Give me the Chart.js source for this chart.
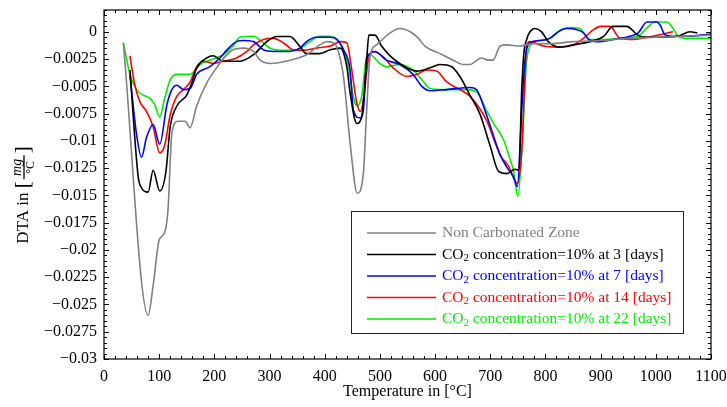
<!DOCTYPE html>
<html>
<head>
<meta charset="utf-8">
<script src="https://cdn.jsdelivr.net/npm/chart.js@4/dist/chart.umd.min.js"></script>
<style>
  html, body { margin: 0; padding: 0; background: #fff; }
  #wrap { width: 727px; height: 407px; }
</style>
</head>
<body>
<div id="wrap"><canvas id="dta" width="727" height="407"></canvas></div>
<script>
/* DTA curves — temperature [°C] vs DTA [mg/°C] */

const xTicks = [0, 100, 200, 300, 400, 500, 600, 700, 800, 900, 1000, 1100];
const yTicks = [0, -0.0025, -0.005, -0.0075, -0.01, -0.0125, -0.015, -0.0175, -0.02, -0.0225, -0.025, -0.0275, -0.03];

const seriesLabels = [
  'Non Carbonated Zone',
  'CO₂ concentration=10% at 3 [days]',
  'CO₂ concentration=10% at 7 [days]',
  'CO₂ concentration=10% at 14 [days]',
  'CO₂ concentration=10% at 22 [days]',
];
const seriesColors = ['#808080', '#000000', '#0000ff', '#ff0000', '#00ee00'];

// Non carbonated zone
const ncT = [35, 80, 89, 100, 110, 116, 123, 134, 147, 156, 168, 186, 204, 219, 234, 252, 271, 283, 301, 337, 367, 391, 404, 415, 422, 434, 446, 459, 470, 476, 482, 494, 518, 536, 555, 569, 582, 609, 633, 651, 663, 684, 696, 705, 718, 730, 754, 778, 808, 850, 900, 950, 1000, 1050, 1100];
const ncV = [-0.001, -0.026, -0.0233, -0.0191, -0.0184, -0.0163, -0.0093, -0.0082, -0.0082, -0.0088, -0.0068, -0.0047, -0.0033, -0.0023, -0.00165, -0.0015, -0.0018, -0.0026, -0.0029, -0.0026, -0.0021, -0.0012, -0.0009, -0.001, -0.0014, -0.0041, -0.0102, -0.0148, -0.013, -0.0072, -0.0023, -0.0012, -0.00012, 0.0003, 0, -0.00056, -0.00134, -0.002, -0.0026, -0.003, -0.003, -0.0024, -0.0026, -0.0026, -0.0013, -0.0012, -0.0013, -0.0011, -0.0011, -0.0009, -0.0008, -0.0006, -0.0005, -0.0004, -0.0003];

// 3 days
const d3T = [47, 62, 68, 80, 89, 101, 112, 120, 132, 150, 159, 168, 186, 198, 216, 246, 271, 295, 313, 337, 355, 367, 391, 410, 428, 440, 446, 458, 467, 476, 480, 491, 503, 530, 567, 596, 609, 630, 645, 663, 681, 700, 715, 730, 745, 752, 757, 761, 766, 772, 781, 793, 805, 826, 850, 881, 906, 922, 947, 971, 1000, 1040, 1062, 1075];
const d3V = [-0.0035, -0.0133, -0.0143, -0.0147, -0.0127, -0.0146, -0.0129, -0.0087, -0.0068, -0.0058, -0.0047, -0.0033, -0.0024, -0.0022, -0.0027, -0.0027, -0.0021, -0.0009, -0.00043, -0.00043, -0.00134, -0.002, -0.002, -0.00165, -0.0015, -0.0032, -0.0056, -0.0084, -0.0078, -0.0026, -0.0003, -0.0003, -0.0013, -0.0027, -0.0036, -0.0032, -0.003, -0.0032, -0.0041, -0.0058, -0.0075, -0.0105, -0.0128, -0.013, -0.0126, -0.0127, -0.0053, -0.0019, -0.0007, 0, 0.0003, 0, -0.0009, -0.0014, -0.0012, -0.0009, -0.0004, 0.0005, 0.0005, -0.0004, -0.0005, -0.0004, 0, -0.0001];

// 7 days
const d7T = [47, 59, 68, 77, 89, 101, 114, 123, 132, 144, 156, 168, 192, 210, 222, 240, 252, 271, 289, 307, 337, 355, 367, 385, 410, 422, 434, 446, 452, 464, 470, 476, 482, 491, 512, 536, 560, 576, 591, 621, 663, 675, 693, 718, 730, 742, 749, 757, 763, 772, 790, 808, 826, 839, 857, 869, 878, 893, 923, 953, 968, 984, 1002, 1008, 1017, 1030, 1060, 1100];
const d7V = [-0.004, -0.0094, -0.0115, -0.0097, -0.0085, -0.0103, -0.0067, -0.0053, -0.0049, -0.0053, -0.0052, -0.0039, -0.0032, -0.0024, -0.0017, -0.0009, -0.0008, -0.0009, -0.00165, -0.0018, -0.0018, -0.0015, -0.0009, -0.0005, -0.0005, -0.0007, -0.00165, -0.0035, -0.0072, -0.0079, -0.0072, -0.0026, -0.002, -0.0018, -0.0026, -0.003, -0.0039, -0.005, -0.0054, -0.0053, -0.0051, -0.0053, -0.0076, -0.0113, -0.0124, -0.0133, -0.0142, -0.0072, -0.0026, -0.001, -0.0008, -0.0006, 0.0001, 0.0003, 0.0002, -0.0001, -0.0007, -0.0009, -0.0007, -0.0004, -0.0001, 0.0009, 0.0009, 0.0006, -0.0003, -0.0004, -0.0004, -0.0002];

// 14 days
const d14T = [47, 56, 65, 77, 89, 101, 110, 120, 132, 144, 156, 168, 180, 198, 216, 240, 259, 271, 289, 307, 325, 343, 361, 385, 410, 428, 440, 449, 458, 465, 471, 479, 488, 506, 524, 549, 567, 585, 603, 621, 645, 663, 693, 718, 733, 749, 757, 762, 766, 772, 796, 820, 850, 869, 887, 900, 917, 935, 960, 995, 1031];
const d14V = [-0.0022, -0.0049, -0.0064, -0.0073, -0.0087, -0.0111, -0.0104, -0.0076, -0.0059, -0.0053, -0.0046, -0.0032, -0.0027, -0.0029, -0.0027, -0.0024, -0.0018, -0.0012, -0.0007, -0.0006, -0.001, -0.00165, -0.0017, -0.0015, -0.0013, -0.0009, -0.001, -0.0035, -0.0065, -0.0073, -0.0059, -0.0026, -0.0018, -0.0023, -0.0033, -0.0041, -0.0039, -0.0035, -0.0036, -0.0046, -0.0053, -0.0059, -0.0081, -0.0113, -0.0123, -0.0139, -0.011, -0.005, -0.0013, -0.0009, -0.0013, -0.0014, -0.0012, -0.0006, 0.0002, 0.0005, 0.0005, -0.0006, -0.0007, -0.0004, 0];

// 22 days
const d22T = [35, 47, 59, 71, 83, 92, 101, 110, 120, 132, 156, 174, 192, 216, 234, 246, 271, 286, 301, 325, 349, 373, 391, 410, 422, 434, 443, 452, 459, 467, 476, 482, 500, 512, 536, 560, 576, 591, 615, 657, 675, 693, 706, 724, 736, 742, 750, 758, 766, 778, 790, 808, 829, 845, 863, 872, 881, 905, 935, 959, 971, 985, 999, 1020, 1030, 1040, 1055, 1100];
const d22V = [-0.001, -0.0039, -0.0053, -0.0058, -0.0061, -0.0067, -0.0078, -0.0061, -0.0044, -0.0039, -0.0039, -0.003, -0.0026, -0.0021, -0.0013, -0.0005, -0.0004, -0.0009, -0.0015, -0.0017, -0.00165, -0.0009, -0.0004, -0.0004, -0.0007, -0.00165, -0.0032, -0.006, -0.0068, -0.0059, -0.0023, -0.0021, -0.0029, -0.0032, -0.003, -0.0035, -0.0044, -0.0052, -0.0053, -0.0053, -0.0055, -0.0072, -0.0084, -0.0099, -0.0117, -0.0127, -0.0151, -0.0102, -0.0026, -0.001, -0.0008, -0.0006, 0.0002, 0.0004, 0.0003, -0.0003, -0.0007, -0.0007, -0.0006, -0.0005, -0.0003, 0.0004, 0.0009, 0.0009, 0.0004, -0.0004, -0.0006, -0.0006];

const seriesT = [ncT, d3T, d7T, d14T, d22T];
const seriesV = [ncV, d3V, d7V, d14V, d22V];

const SERIF = "'Liberation Serif', 'DejaVu Serif', serif";

function fmtTick(v) {
  return String(v).replace('-', '\u2212');
}

// draws a label, turning '₂' into a lowered small 2
function drawRich(ctx, text, x, y, size, color) {
  ctx.fillStyle = color;
  ctx.textBaseline = 'middle';
  ctx.textAlign = 'left';
  let cx = x;
  for (const ch of text) {
    if (ch === '₂') {
      ctx.font = `${Math.round(size * 0.7)}px ${SERIF}`;
      ctx.fillText('2', cx, y + size * 0.25);
      cx += ctx.measureText('2').width;
    } else {
      ctx.font = `${size}px ${SERIF}`;
      ctx.fillText(ch, cx, y);
      cx += ctx.measureText(ch).width;
    }
  }
}

/* frame, inward ticks, axis titles and boxed legend */
const decorations = {
  id: 'decorations',
  afterDraw(chart) {
    const { ctx, chartArea: a, scales: { x, y } } = chart;
    ctx.save();
    ctx.strokeStyle = '#000';
    ctx.lineWidth = 1;

    // ticks
    ctx.beginPath();
    for (let v = 0; v <= 1100; v += 20) {
      const px = Math.round(x.getPixelForValue(v)) + 0.5;
      const len = v % 100 === 0 ? 5 : 3;
      ctx.moveTo(px, a.bottom); ctx.lineTo(px, a.bottom - len);
      ctx.moveTo(px, a.top); ctx.lineTo(px, a.top + len);
    }
    for (let k = -60; k <= 4; k++) {
      const py = Math.round(y.getPixelForValue(k * 0.0005)) + 0.5;
      const len = k % 5 === 0 ? 5 : 3;
      ctx.moveTo(a.left, py); ctx.lineTo(a.left + len, py);
      ctx.moveTo(a.right, py); ctx.lineTo(a.right - len, py);
    }
    ctx.stroke();

    // frame
    ctx.lineWidth = 1.2;
    ctx.strokeRect(a.left, a.top, a.right - a.left, a.bottom - a.top);

    // x title
    ctx.fillStyle = '#000';
    ctx.font = `16px ${SERIF}`;
    ctx.textAlign = 'center';
    ctx.textBaseline = 'middle';
    ctx.fillText('Temperature in [°C]', (a.left + a.right) / 2, 392);

    // y title with fraction mg/°C
    ctx.save();
    ctx.translate(23, 195);
    ctx.rotate(-Math.PI / 2);
    ctx.textBaseline = 'middle';
    ctx.textAlign = 'left';
    ctx.font = `17px ${SERIF}`;
    const head = 'DTA in ';
    const wHead = ctx.measureText(head).width;
    ctx.font = `21px ${SERIF}`;
    const wBr = ctx.measureText('[').width;
    const wFrac = 24;
    const total = wHead + 2 * wBr + wFrac + 4;
    let cx = -total / 2;
    ctx.font = `17px ${SERIF}`;
    ctx.fillText(head, cx, 1);
    cx += wHead;
    ctx.font = `21px ${SERIF}`;
    ctx.fillText('[', cx, 0);
    cx += wBr + 2;
    ctx.textAlign = 'center';
    ctx.font = `italic 14px ${SERIF}`;
    ctx.fillText('mg', cx + wFrac / 2, -6);
    ctx.font = `12px ${SERIF}`;
    ctx.fillText('°C', cx + wFrac / 2, 8);
    ctx.lineWidth = 1.3;
    ctx.beginPath();
    ctx.moveTo(cx, 1); ctx.lineTo(cx + wFrac, 1);
    ctx.stroke();
    cx += wFrac + 2;
    ctx.textAlign = 'left';
    ctx.font = `21px ${SERIF}`;
    ctx.fillText(']', cx, 0);
    ctx.restore();

    // legend
    const bx = 351, by = 211, bw = 332, bh = 122;
    ctx.fillStyle = '#fff';
    ctx.fillRect(bx, by, bw, bh);
    ctx.strokeStyle = '#222';
    ctx.lineWidth = 1;
    ctx.strokeRect(bx + 0.5, by + 0.5, bw, bh);
    chart.data.datasets.forEach((ds, i) => {
      const ry = 233 + i * 21.5;
      ctx.strokeStyle = ds.borderColor;
      ctx.lineWidth = 1.6;
      ctx.beginPath();
      ctx.moveTo(367, ry); ctx.lineTo(436, ry);
      ctx.stroke();
      drawRich(ctx, ds.label, 442, ry, 15.5, ds.borderColor);
    });
    ctx.restore();
  }
};

const datasets = seriesLabels.map((label, i) => ({
  label,
  data: seriesT[i].map((t, j) => ({ x: t, y: seriesV[i][j] })),
  borderColor: seriesColors[i],
  borderWidth: 1.6,
  pointRadius: 0,
  fill: false,
  cubicInterpolationMode: 'monotone',
}));

function noPad(s) {
  s.paddingTop = 0; s.paddingBottom = 0; s.paddingLeft = 0; s.paddingRight = 0;
}

new Chart(document.getElementById('dta'), {
  type: 'line',
  data: { datasets },
  options: {
    responsive: false,
    animation: false,
    clip: 2,
    layout: { padding: { top: 10, right: 16, left: 0, bottom: 0 } },
    plugins: { legend: { display: false }, tooltip: { enabled: false } },
    scales: {
      x: {
        type: 'linear',
        min: 0,
        max: 1100,
        afterBuildTicks: s => { s.ticks = xTicks.map(v => ({ value: v })); },
        afterFit: s => { s.height = 48; noPad(s); },
        grid: { display: false, drawTicks: false },
        border: { display: false },
        ticks: {
          padding: 8,
          color: '#000',
          font: { family: SERIF, size: 16 },
          maxRotation: 0,
          callback: v => fmtTick(v),
        },
      },
      y: {
        type: 'linear',
        min: -0.03,
        max: 0.002,
        afterBuildTicks: s => { s.ticks = yTicks.map(v => ({ value: v })); },
        afterFit: s => { s.width = 104; noPad(s); },
        grid: { display: false, drawTicks: false },
        border: { display: false },
        ticks: {
          padding: 7,
          color: '#000',
          font: { family: SERIF, size: 16 },
          callback: v => fmtTick(v),
        },
      },
    },
  },
  plugins: [decorations],
});
</script>
</body>
</html>
